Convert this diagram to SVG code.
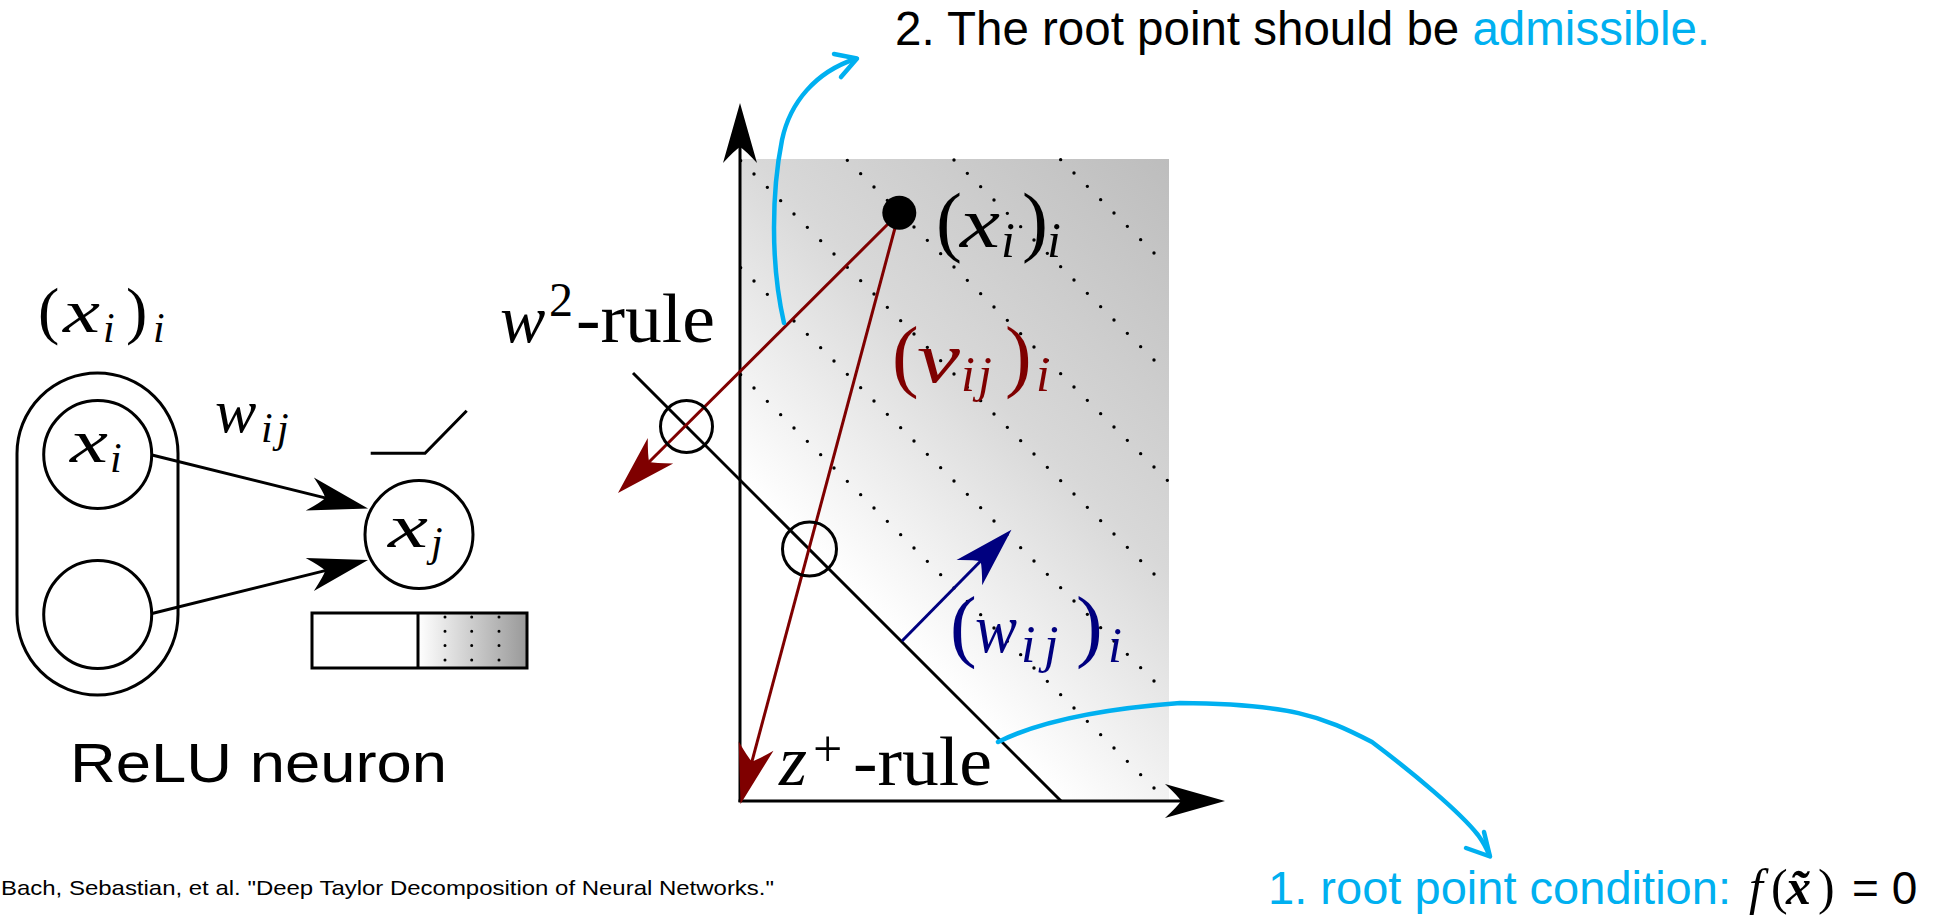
<svg xmlns="http://www.w3.org/2000/svg" width="1949" height="919" viewBox="0 0 1949 919">
<defs>
<style>
.k{fill:none;stroke:#000;stroke-width:3}
.mi{font-family:"Liberation Serif","Times New Roman",serif;font-style:italic}
.mr{font-family:"Liberation Serif","Times New Roman",serif}
.sans{font-family:"Liberation Sans",Arial,sans-serif}
.dots{fill:none;stroke:#000;stroke-width:3.4;stroke-linecap:round;stroke-dasharray:0 18.856}
.cy{fill:none;stroke:#00B0F0;stroke-width:4.5;stroke-linecap:round;stroke-linejoin:round}
.red{fill:none;stroke:#7f0000;stroke-width:3}
.blu{fill:none;stroke:#00007f;stroke-width:3}
</style>
<linearGradient id="gbg" gradientUnits="userSpaceOnUse" x1="900" y1="640" x2="1275" y2="265">
<stop offset="0" stop-color="#ffffff"/><stop offset="0.45" stop-color="#d8d8d8"/><stop offset="1" stop-color="#bdbdbd"/>
</linearGradient>
<linearGradient id="gbar" x1="0" y1="0" x2="1" y2="0">
<stop offset="0" stop-color="#ffffff"/><stop offset="1" stop-color="#999999"/>
</linearGradient>
<marker id="ak" viewBox="-62 -20 64 40" refX="-40" refY="0" markerWidth="64" markerHeight="40" markerUnits="userSpaceOnUse" orient="auto">
<path d="M0,0 L-60,-17 Q-47,-5 -44,0 Q-47,5 -60,17 Z" fill="#000"/></marker>
<marker id="ar" viewBox="-62 -20 64 40" refX="-40" refY="0" markerWidth="64" markerHeight="40" markerUnits="userSpaceOnUse" orient="auto">
<path d="M0,0 L-60,-18 Q-47,-5 -44,0 Q-47,5 -60,18 Z" fill="#7f0000"/></marker>
<marker id="ab" viewBox="-62 -20 64 40" refX="-40" refY="0" markerWidth="64" markerHeight="40" markerUnits="userSpaceOnUse" orient="auto">
<path d="M0,0 L-60,-18 Q-47,-5 -44,0 Q-47,5 -60,18 Z" fill="#00007f"/></marker>
</defs>
<rect width="1949" height="919" fill="#fff"/>

<!-- left: ReLU neuron -->
<g id="input-layer">
<rect class="k" x="17" y="373" width="161" height="322" rx="80.5"/>
<text class="mr" x="38" y="332" font-size="64">(</text>
<text class="mi" x="63" y="332" font-size="62" textLength="37" lengthAdjust="spacingAndGlyphs">x</text>
<text class="mi" x="103" y="342" font-size="42">i</text>
<text class="mr" x="126" y="332" font-size="64">)</text>
<text class="mi" x="153" y="342" font-size="42">i</text>
</g>
<g id="node-xi">
<circle class="k" cx="97.7" cy="454.5" r="54"/>
<text class="mi" x="70" y="462" font-size="62" textLength="38" lengthAdjust="spacingAndGlyphs">x</text>
<text class="mi" x="110" y="472" font-size="42">i</text>
</g>
<g id="node-x2">
<circle class="k" cx="97.7" cy="614.5" r="54"/>
</g>
<g id="node-xj">
<circle class="k" cx="419" cy="534.5" r="54"/>
<text class="mi" x="388" y="547" font-size="62" textLength="40" lengthAdjust="spacingAndGlyphs">x</text>
<text class="mi" x="431" y="556" font-size="42">j</text>
</g>
<g id="relu-glyph">
<polyline class="k" points="370.7,453.3 425,453.3 466.7,410.7"/>
</g>
<g id="relu-bar">
<rect x="418" y="613" width="109" height="55" fill="url(#gbar)"/>
<path class="dots" style="stroke-width:3;stroke-dasharray:0 14.3" d="M445,617 L445,662 M471.7,617 L471.7,662 M499,617 L499,662"/>
<rect class="k" x="312" y="613" width="215" height="55"/>
<line class="k" x1="418" y1="613" x2="418" y2="668"/>
</g>
<g id="label-wij">
<text class="mi" x="215" y="432" font-size="62">w</text>
<text class="mi" x="261" y="442" font-size="42">i</text>
<text class="mi" x="277" y="442" font-size="42">j</text>
</g>
<text id="relu-title" class="sans" x="70" y="782" font-size="56" textLength="377" lengthAdjust="spacingAndGlyphs">ReLU neuron</text>

<!-- right: plot -->
<g id="plot-area">
<rect x="740" y="159" width="429" height="642" fill="url(#gbg)"/>
<path class="dots" d="M740.67,374.67 L1167.33,801.33 M740.67,267.67 L1167.33,694.33 M740.67,160.67 L1167.33,587.33 M847.33,160.33 L1167.33,480.33 M954,160 L1167.33,373.33 M1060.67,159.67 L1167.33,266.33"/>
</g>

<g id="connectors">
<line class="k" x1="152" y1="455" x2="329.2" y2="498.9" marker-end="url(#ak)"/>
<line class="k" x1="152" y1="613.5" x2="329.2" y2="569.6" marker-end="url(#ak)"/>
<line class="k" x1="740" y1="802" x2="740" y2="143" marker-end="url(#ak)"/>
<line class="k" x1="738.5" y1="801" x2="1185" y2="801" marker-end="url(#ak)"/>
<line class="k" x1="633" y1="373" x2="1061" y2="801"/>
<line class="red" x1="899" y1="213" x2="646.3" y2="464.8" marker-end="url(#ar)"/>
<line class="red" x1="899" y1="213" x2="750.9" y2="765.4" marker-end="url(#ar)"/>
<line class="blu" x1="902" y1="641" x2="983.4" y2="558.3" marker-end="url(#ab)"/>
<path class="cy" d="M784,323 C770,262 772,190 782,140 C790,102 816,72 855,59"/>
<polyline class="cy" points="834,54 857,58.5 841,77"/>
<path class="cy" d="M998,742 C1040,721 1100,709 1180,703 C1290,704 1322,716 1372,742 C1412,772 1460,812 1478,835 Q1486,846 1489,855"/>
<polyline class="cy" points="1466,848 1490,856.5 1484,832"/>
</g>

<g id="node-root-w2">
<circle class="k" cx="686.5" cy="426.5" r="26"/>
</g>
<g id="node-root-z">
<circle class="k" cx="809.5" cy="549" r="27"/>
</g>
<g id="node-xi-point">
<circle cx="899.3" cy="212.7" r="17" fill="#000"/>
<text class="mr" x="936" y="247" font-size="78">(</text>
<text class="mi" x="960" y="247" font-size="72" textLength="40" lengthAdjust="spacingAndGlyphs">x</text>
<text class="mi" x="1001" y="257" font-size="50">i</text>
<text class="mr" x="1022" y="247" font-size="78">)</text>
<text class="mi" x="1047" y="257" font-size="50">i</text>
</g>
<g id="label-vij" fill="#7f0000">
<text class="mr" x="892" y="382" font-size="80">(</text>
<text class="mi" x="917" y="382" font-size="72" textLength="43" lengthAdjust="spacingAndGlyphs">v</text>
<text class="mi" x="961" y="391" font-size="50">i</text>
<text class="mi" x="978" y="391" font-size="50">j</text>
<text class="mr" x="1005" y="382" font-size="80">)</text>
<text class="mi" x="1036" y="391" font-size="50">i</text>
</g>
<g id="label-wij-vec" fill="#00007f">
<text class="mr" x="950" y="652" font-size="80">(</text>
<text class="mi" x="975" y="652" font-size="70" textLength="42" lengthAdjust="spacingAndGlyphs">w</text>
<text class="mi" x="1021" y="662" font-size="52">i</text>
<text class="mi" x="1044" y="662" font-size="52">j</text>
<text class="mr" x="1076" y="652" font-size="80">)</text>
<text class="mi" x="1108" y="662" font-size="50">i</text>
</g>
<g id="label-w2rule">
<text class="mi" x="500" y="342" font-size="68">w</text>
<text class="mr" x="549" y="316" font-size="48">2</text>
<text class="mr" x="576" y="342" font-size="70" textLength="139" lengthAdjust="spacingAndGlyphs">-rule</text>
</g>
<g id="label-zrule">
<text class="mi" x="779" y="785" font-size="72">z</text>
<text class="mr" x="813" y="766" font-size="52">+</text>
<text class="mr" x="853" y="785" font-size="70" textLength="139" lengthAdjust="spacingAndGlyphs">-rule</text>
</g>

<g id="note-admissible">
<text class="sans" x="895" y="45" font-size="47.5">2. The root point should be <tspan fill="#00B0F0">admissible.</tspan></text>
</g>
<g id="note-root">
<text class="sans" x="1268" y="904" font-size="46" fill="#00B0F0" textLength="463" lengthAdjust="spacingAndGlyphs">1. root point condition:</text>
<text class="mi" x="1749" y="904" font-size="50">f</text>
<text class="mr" x="1771" y="904" font-size="50">(</text>
<text class="mi" x="1786" y="904" font-size="50" font-weight="bold">x&#771;</text>
<text class="mr" x="1818" y="904" font-size="50">)</text>
<text class="sans" x="1852" y="904" font-size="46">= 0</text>
</g>
<text id="citation" class="sans" x="1" y="895" font-size="21" textLength="773" lengthAdjust="spacingAndGlyphs">Bach, Sebastian, et al. "Deep Taylor Decomposition of Neural Networks."</text>
</svg>
